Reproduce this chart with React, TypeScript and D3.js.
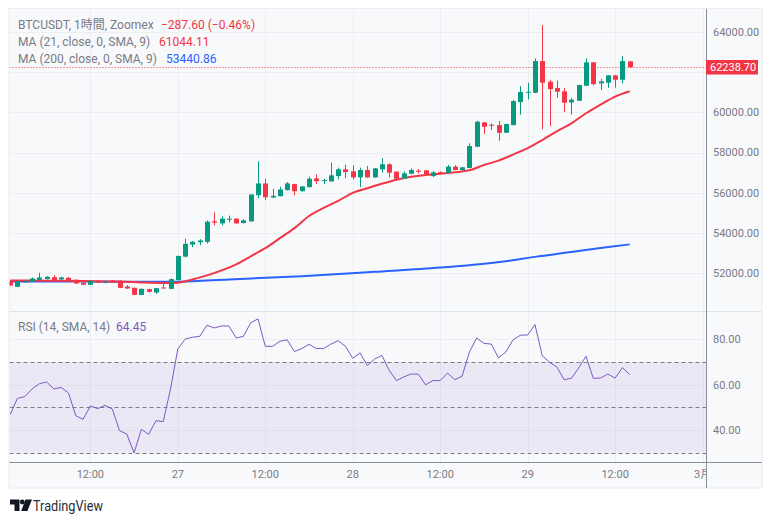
import React from 'react';
import * as d3 from 'd3';

// hourly candles, first bar at 26 Feb 01:00
const opens = [51620, 51333, 51550, 51620, 51680, 51717, 51817, 51700, 51783, 51683,
  51533, 51433, 51633, 51550, 51650, 51633, 51350, 51283, 50933, 51217,
  51050, 51300, 51233, 51667, 52833, 53433, 53550, 53567, 54583, 54483,
  54667, 54717, 54500, 54583, 55883, 56467, 55767, 55833, 56133, 56433,
  56083, 56283, 56717, 56600, 56567, 56833, 57167, 57067, 56767, 57133,
  56767, 57167, 57417, 57050, 56717, 56950, 57100, 57117, 56833, 57017,
  57000, 57300, 57133, 57233, 58288, 59497, 59381, 59364, 58983, 59364,
  60506, 60970, 60970, 62543, 61517, 61202, 61036, 60490, 60573, 61318,
  62477, 61434, 61467, 61831, 61616, 62526.3];
const highs = [51680, 51650, 51650, 51800, 52033, 51850, 51920, 51830, 51830, 51700,
  51560, 51640, 51660, 51640, 51670, 51650, 51420, 51300, 51250, 51240,
  51280, 51500, 51740, 52880, 53717, 53600, 53700, 54633, 55033, 54833,
  54867, 54740, 54700, 55930, 57567, 56700, 56200, 56300, 56533, 56450,
  56330, 56800, 56917, 56700, 57500, 57250, 57400, 57367, 57250, 57333,
  57230, 57717, 57467, 57070, 57067, 57217, 57183, 57130, 57067, 57067,
  57383, 57367, 57280, 58454, 59580, 59510, 59447, 59563, 59430, 60606,
  61301, 61467, 62675, 64331, 61616, 61583, 61202, 60722, 61370, 62675,
  62490, 61649, 61850, 61845, 62791, 62543];
const lows = [51380, 51310, 51530, 51570, 51660, 51700, 51650, 51650, 51650, 51480,
  51420, 51420, 51530, 51500, 51550, 51270, 51230, 50920, 50920, 51060,
  50983, 51260, 51220, 51650, 52800, 53300, 53400, 53483, 54383, 54383,
  54533, 54470, 54480, 54560, 55733, 55633, 55733, 55820, 56120, 55883,
  56060, 56270, 56433, 56433, 56550, 56667, 56733, 56667, 56283, 56750,
  56750, 57000, 56767, 56680, 56700, 56917, 56967, 56870, 56783, 56933,
  56990, 57120, 57120, 57220, 58270, 58917, 59116, 58586, 58970, 59350,
  59878, 60639, 60950, 59149, 59315, 60722, 60010, 59894, 60560, 61300,
  61334, 61103, 61218, 61218, 61434, 62200];
const closes = [51400, 51617, 51630, 51750, 51800, 51833, 51667, 51800, 51667, 51500,
  51433, 51617, 51550, 51617, 51567, 51283, 51250, 50933, 51233, 51083,
  51267, 51267, 51717, 52867, 53467, 53567, 53633, 54567, 54517, 54717,
  54717, 54483, 54633, 55917, 56467, 55783, 55850, 56167, 56467, 56083,
  56317, 56700, 56583, 56633, 56867, 57167, 57033, 56767, 57133, 56767,
  57217, 57417, 57000, 56700, 56967, 57133, 57067, 56883, 57017, 56967,
  57300, 57133, 57267, 58321, 59530, 59281, 59331, 58983, 59414, 60556,
  61003, 61020, 62543, 61467, 61152, 61020, 60474, 60623, 61351, 62477,
  61401, 61533, 61831, 61616, 62543, 62238.7];

const rsiValues = [46.8, 54.0, 54.7, 58.1, 60.4, 61.2, 58.1, 58.8, 56.3, 46.3,
  44.7, 50.6, 49.4, 50.9, 49.3, 39.7, 38.2, 29.9, 40.3, 38.1,
  44.1, 43.7, 58.1, 75.7, 80.1, 80.9, 81.3, 86.2, 85.0, 85.9,
  85.9, 80.6, 81.3, 87.3, 89.0, 76.9, 76.9, 79.1, 79.8, 74.6,
  75.9, 77.8, 75.9, 75.9, 77.9, 79.4, 76.9, 71.6, 74.0, 68.4,
  71.3, 72.9, 66.3, 61.8, 63.4, 64.7, 64.6, 59.9, 61.8, 61.8,
  65.1, 62.2, 63.7, 74.3, 80.6, 78.2, 77.9, 71.8, 74.4, 79.8,
  81.8, 81.9, 86.5, 72.8, 69.9, 67.8, 62.2, 62.8, 67.4, 72.5,
  62.8, 62.9, 64.7, 62.9, 67.5, 64.45];

// moving averages read at selected bars
const ma21Index = [0, 5, 10, 15, 18, 21, 23, 25, 27, 29, 31, 33, 35, 37, 39, 41, 43, 45, 47, 49,
  51, 53, 55, 57, 59, 61, 63, 65, 67, 69, 71, 73, 75, 77, 79, 81, 83, 85];
const ma21Values = [51650, 51640, 51620, 51600, 51550, 51520, 51540, 51700, 51900, 52150,
  52450, 52850, 53250, 53750, 54250, 54850, 55250, 55600, 56000, 56230,
  56450, 56650, 56800, 56880, 56950, 57020, 57120, 57380, 57600, 57900,
  58220, 58620, 59050, 59450, 59950, 60380, 60780, 61044.11];
const ma200Index = [0, 10, 20, 23, 30, 40, 50, 59, 63, 68, 72, 77, 81, 85];
const ma200Values = [51600, 51600, 51580, 51590, 51700, 51860, 52080, 52290, 52410, 52600,
  52820, 53060, 53260, 53440.86];

const priceTicks = [52000, 54000, 56000, 58000, 60000, 62000, 64000];
const rsiTicks = [40, 60, 80];
const rsiLevels = [70, 50, 30];
const timeLabels = ['12:00', '27', '12:00', '28', '12:00', '29', '12:00', '3月'];

const GREEN = '#089981';
const RED = '#f23645';
const BLUE = '#2962ff';
const PURPLE = '#7e57c2';
const TEXT = '#787b86';
const GRID = '#eceef2';
const FONT = 'Roboto, "Noto Sans CJK JP", sans-serif';

const App = () => {
  const width = 772;
  const height = 523;
  const plotLeft = 9.5;
  const plotRight = 706;
  const mainTop = 9;
  const mainBottom = 311;
  const rsiBottom = 462;

  const start = Date.UTC(2024, 1, 26, 1);
  const hour = 3600 * 1000;
  const times = opens.map((_, i) => new Date(start + i * hour));

  const xScale = d3.scaleUtc()
    .domain([new Date(Date.UTC(2024, 1, 26, 0)), new Date(Date.UTC(2024, 2, 1, 0))])
    .range([2.9, 702.6]);
  const yPrice = d3.scaleLinear().domain([52000, 64000]).range([273.4, 31.7]);
  const yRsi = d3.scaleLinear().domain([40, 80]).range([430, 339.3]);

  const timeTicks = d3.utcHour.every(12)!.range(
    new Date(Date.UTC(2024, 1, 26, 12)), new Date(Date.UTC(2024, 2, 1, 1)));

  const maLine = d3.line<[number, number]>()
    .x(d => xScale(times[d[0]]))
    .y(d => yPrice(d[1]))
    .curve(d3.curveMonotoneX);
  const ma21Path = maLine(ma21Index.map((k, j) => [k, ma21Values[j]]));
  const ma200Path = maLine(ma200Index.map((k, j) => [k, ma200Values[j]]));

  const rsiPath = d3.line<number>()
    .x((_, i) => xScale(times[i]))
    .y(d => yRsi(d))(rsiValues);

  const lastClose = closes[closes.length - 1];
  const lastY = Math.round(yPrice(lastClose)) + 0.5;
  const bodyW = 5;

  const candles = opens.map((o, i) => {
    const c = closes[i];
    const cx = Math.round(xScale(times[i]));
    const color = c >= o ? GREEN : RED;
    const top = yPrice(Math.max(o, c));
    const bot = yPrice(Math.min(o, c));
    return (
      <g key={i}>
        <line x1={cx + 0.5} x2={cx + 0.5} y1={yPrice(highs[i])} y2={yPrice(lows[i])}
          stroke={color} strokeWidth={1} />
        <rect x={cx + 0.5 - bodyW / 2} y={top} width={bodyW} height={Math.max(1, bot - top)} fill={color} />
      </g>
    );
  });

  return (
    <svg width={width} height={height} style={{ position: 'absolute', left: 0, top: 0 }}
      fontFamily={FONT}>
      <defs>
        <clipPath id="mainClip">
          <rect x={plotLeft} y={mainTop} width={plotRight - plotLeft} height={mainBottom - mainTop} />
        </clipPath>
        <clipPath id="rsiClip">
          <rect x={plotLeft} y={mainBottom} width={plotRight - plotLeft} height={rsiBottom - mainBottom} />
        </clipPath>
        <clipPath id="timeClip">
          <rect x={plotLeft} y={rsiBottom} width={plotRight - plotLeft} height={30} />
        </clipPath>
      </defs>
      <rect width={width} height={height} fill="#ffffff" />
      <rect x={9} y={8.5} width={753} height={479.5} fill="#f8f9fb" stroke="#e9ebf0" />

      {/* grid */}
      {timeTicks.map((t, i) => (
        <line key={'vg' + i} x1={Math.round(xScale(t)) + 0.5} x2={Math.round(xScale(t)) + 0.5}
          y1={mainTop} y2={rsiBottom} stroke={GRID} />
      ))}
      {priceTicks.map(p => (
        <line key={'hg' + p} x1={plotLeft} x2={plotRight} y1={Math.round(yPrice(p)) + 0.5}
          y2={Math.round(yPrice(p)) + 0.5} stroke={GRID} />
      ))}
      {rsiTicks.map(r => (
        <line key={'rg' + r} x1={plotLeft} x2={plotRight} y1={Math.round(yRsi(r)) + 0.5}
          y2={Math.round(yRsi(r)) + 0.5} stroke={GRID} />
      ))}
      <line x1={plotLeft} x2={762} y1={mainBottom + 0.5} y2={mainBottom + 0.5} stroke="#e0e3eb" />

      {/* main pane */}
      <g clipPath="url(#mainClip)">
        <line x1={plotLeft} x2={plotRight} y1={lastY} y2={lastY}
          stroke={RED} strokeDasharray="1,2" />
        <path d={ma200Path ?? ''} fill="none" stroke={BLUE} strokeWidth={2} />
        <path d={ma21Path ?? ''} fill="none" stroke={RED} strokeWidth={2} />
        {candles}
      </g>

      {/* rsi pane */}
      <g clipPath="url(#rsiClip)">
        <rect x={plotLeft} y={yRsi(70)} width={plotRight - plotLeft} height={yRsi(30) - yRsi(70)}
          fill={PURPLE} fillOpacity={0.1} />
        {rsiLevels.map(l => (
          <line key={'lv' + l} x1={plotLeft} x2={plotRight} y1={Math.round(yRsi(l)) + 0.5}
            y2={Math.round(yRsi(l)) + 0.5} stroke="#787b86" strokeDasharray="4,3" />
        ))}
        <path d={rsiPath ?? ''} fill="none" stroke={PURPLE} strokeWidth={1} />
      </g>

      {/* axes */}
      <line x1={plotRight + 0.5} x2={plotRight + 0.5} y1={mainTop} y2={488} stroke="#8c8f99" />
      <line x1={plotLeft} x2={762} y1={rsiBottom + 0.5} y2={rsiBottom + 0.5} stroke="#8c8f99" />
      {priceTicks.filter(p => p !== 62000).map(p => (
        <text key={'pt' + p} x={713} y={yPrice(p)} dy="0.35em" fontSize={11} fill={TEXT}>
          {d3.format('.2f')(p)}
        </text>
      ))}
      {rsiTicks.map(r => (
        <text key={'rt' + r} x={713} y={yRsi(r)} dy="0.35em" fontSize={11} fill={TEXT}>
          {d3.format('.2f')(r)}
        </text>
      ))}
      <rect x={706} y={lastY - 7.5} width={52} height={14.5} fill={RED} />
      <text x={710} y={lastY} dy="0.35em" fontSize={11} fill="#ffffff">
        {d3.format('.2f')(lastClose)}
      </text>
      <g clipPath="url(#timeClip)">
        {timeTicks.map((t, i) => (
          <text key={'tt' + i} x={xScale(t)} y={474} dy="0.35em" fontSize={11} fill={TEXT}
            textAnchor="middle">
            {timeLabels[i]}
          </text>
        ))}
      </g>

      {/* legends */}
      <g fontSize={12}>
        <text x={18} y={25} dy="0.35em" fill={TEXT}>BTCUSDT, 1時間, Zoomex</text>
        <text x={161} y={25} dy="0.35em" fill={RED}>−287.60 (−0.46%)</text>
        <text x={18} y={42} dy="0.35em" fill={TEXT}>MA (21, close, 0, SMA, 9)</text>
        <text x={159} y={42} dy="0.35em" fill={RED}>61044.11</text>
        <text x={18} y={59} dy="0.35em" fill={TEXT}>MA (200, close, 0, SMA, 9)</text>
        <text x={166} y={59} dy="0.35em" fill={BLUE}>53440.86</text>
        <text x={18} y={327} dy="0.35em" fill={TEXT}>RSI (14, SMA, 14)</text>
        <text x={116} y={327} dy="0.35em" fill={PURPLE}>64.45</text>
      </g>

      {/* logo */}
      <g fill="#131722">
        <path d="M10,499.5 h9.5 v11.5 h-5 v-6.5 h-4.5 z" />
        <circle cx={22.3} cy={502} r={2.4} />
        <path d="M25.5,499.5 h6.5 l-4.6,11.5 h-6.2 z" />
        <text x={33} y={510.5} fontSize={14} textLength={70} lengthAdjust="spacingAndGlyphs"
          fill="#2a2e39">TradingView</text>
      </g>
    </svg>
  );
};

export default App;
